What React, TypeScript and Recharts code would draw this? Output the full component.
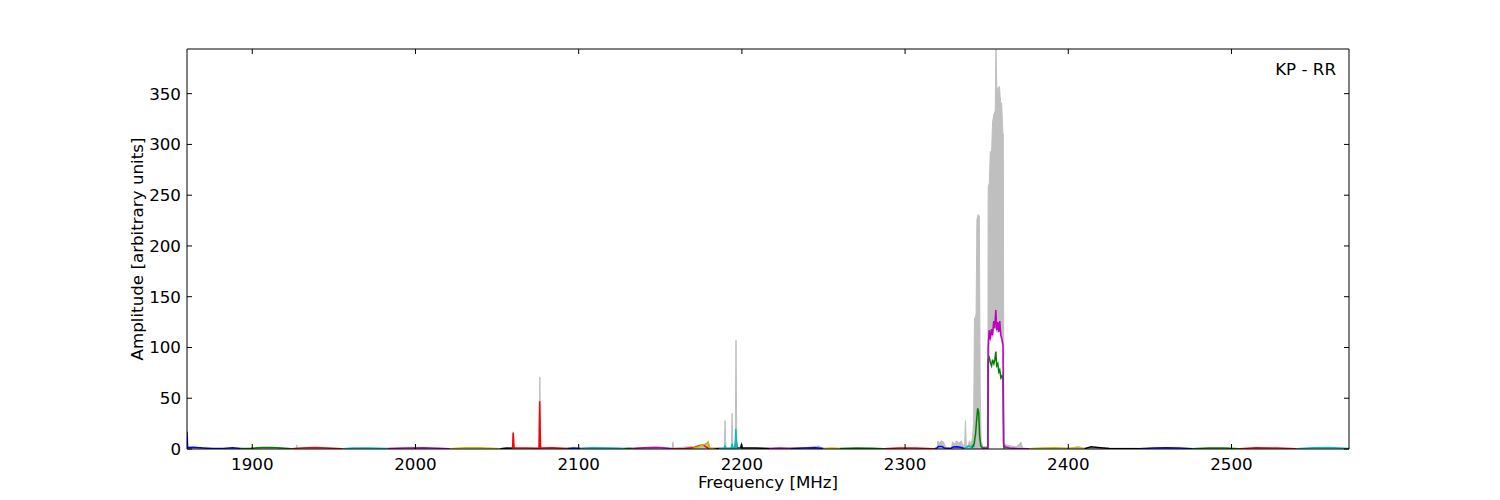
import React from 'react';
import { ComposedChart, Line, Area, XAxis, YAxis } from 'recharts';

// frequency [MHz], low, high  (envelope of all spectra, drawn in grey)
const grey: [number, number, number][] = [
  [1860, 0, 0], [1926.8, 0, 0], [1927.3, 0, 4], [1927.8, 0, 0],
  [2059.3, 0, 0], [2059.8, 0, 17], [2060.3, 0, 0],
  [2075.7, 0, 0], [2076.2, 0, 71], [2076.7, 0, 0],
  [2110, 0, 1.5], [2118, 0, 1.2], [2130, 0, 0.5], [2145, 0, 2], [2152, 0, 1.8],
  [2157.2, 0, 0], [2157.7, 0, 7], [2158.2, 0, 1],
  [2174, 0, 3], [2178, 0, 5], [2179.5, 0, 7], [2180.5, 0, 0.5],
  [2189.2, 0, 0], [2189.7, 0, 28], [2190.2, 0, 0],
  [2193.5, 0, 0], [2194, 0, 35], [2194.5, 0, 0],
  [2195.9, 0, 0], [2196.4, 0, 107], [2196.9, 0, 0],
  [2240, 0, 1.5], [2247, 0, 3], [2250, 0, 0.5],
  [2319.5, 0, 0], [2320, 0, 8], [2321, 0, 6], [2322, 0, 8], [2323.5, 0, 7], [2325, 0, 1],
  [2328.5, 0, 1], [2329, 0, 7], [2330.5, 0, 5], [2331.5, 0, 8], [2333, 0, 6], [2334.5, 0, 8], [2335.5, 0, 3],
  [2336.5, 0, 5], [2337, 0, 28], [2337.5, 0, 4],
  [2338.5, 0, 3], [2339.5, 0, 8], [2340.5, 0, 5], [2341.3, 0, 12], [2342, 0, 25],
  [2342.5, 0, 128], [2343.5, 0, 132], [2344, 0, 226], [2344.8, 0, 231], [2345.5, 0, 229], [2346, 0, 60],
  [2346.6, 0, 8], [2347.5, 0, 3], [2349, 0, 2], [2350.7, 0, 3],
  [2350.9, 2, 258], [2351.6, 115, 262], [2352.2, 106, 293], [2353, 116, 292], [2353.6, 110, 322],
  [2354.4, 124, 330], [2355.2, 118, 333], [2355.7, 135, 394], [2356.3, 115, 350], [2357, 122, 356],
  [2357.8, 120, 357], [2358.5, 112, 342], [2359.2, 106, 340], [2359.9, 100, 311], [2360.2, 5, 310],
  [2360.5, 0, 6], [2362, 0, 4], [2365, 0, 3], [2368, 0, 2], [2370, 0, 5], [2371, 0, 7], [2372, 0, 1],
  [2376, 0, 0.5], [2403, 0, 1], [2406, 0, 2.5], [2409, 0, 1], [2572, 0, 0],
];

// individual sub-band spectra, [frequency, amplitude]
const blueA = [[1860, 17], [1860.4, 1.5], [1864, 1.8], [1870, 1], [1876, 0.4], [1882, 0.6], [1888, 1.3], [1893, 0.5]];
const greenA = [[1893, 0.5], [1899, 0.7], [1906, 1.4], [1912, 1.6], [1918, 1], [1924, 0.3]];
const redA = [[1924, 0.3], [1930, 1.1], [1938, 1.4], [1946, 1], [1955, 0.3]];
const cyanA = [[1955, 0.3], [1962, 0.9], [1972, 1.1], [1983, 0.4]];
const magentaA = [[1983, 0.4], [1993, 0.9], [2005, 1.2], [2014, 0.8], [2021, 0.3]];
const yellowA = [[2021, 0.3], [2030, 1.3], [2040, 1.2], [2052, 0.3]];
const blackA = [[2052, 0.3], [2056, 0.9], [2059.5, 0.8]];
const redB = [[2059.5, 0.8], [2059.9, 16], [2060.4, 1], [2068, 0.9], [2075.7, 0.8], [2076.1, 47], [2076.6, 1], [2084, 1.2], [2093, 0.4]];
const blueB = [[2093, 0.4], [2097, 0.9], [2101, 0.5]];
const cyanB = [[2101, 0.5], [2108, 1.3], [2116, 1.1], [2124, 0.8], [2128, 0.4]];
const greenB = [[2128, 0.4], [2131, 0.8], [2133, 0.5]];
const magentaB = [[2133, 0.5], [2140, 1.2], [2148, 1.6], [2155, 0.8], [2158, 0.3]];
const redC = [[2158, 0.3], [2165, 0.5], [2171, 1.5], [2174, 3.5], [2176.5, 4], [2178, 2], [2179.5, 0.8], [2184, 0.4]];
const yellowB = [[2170, 0.5], [2173, 2], [2176, 4], [2178, 5], [2179.2, 7], [2180.2, 1], [2183, 0.3]];
const blackB = [[2184, 0.4], [2189.2, 0.5], [2189.7, 2], [2190.2, 0.5], [2193.5, 0.5], [2194, 3], [2194.5, 0.5], [2195.9, 0.5], [2196.4, 12], [2196.9, 1], [2199.2, 1], [2199.7, 4], [2200.2, 1], [2208, 1], [2217, 0.5]];
const cyanC = [[2186, 0.4], [2189.2, 0.4], [2189.7, 3], [2190.2, 0.4], [2193.5, 0.4], [2194, 5], [2194.5, 0.4], [2195.9, 0.4], [2196.3, 20], [2196.8, 0.8], [2200, 0.5]];
const magentaC = [[2217, 0.5], [2223, 1], [2230, 0.4]];
const blueC = [[2230, 0.4], [2238, 1], [2245, 1.3], [2250, 0.4]];
const yellowC = [[2250, 0.4], [2255, 0.9], [2260, 0.4]];
const greenC = [[2260, 0.4], [2270, 1], [2280, 0.8], [2287, 0.3]];
const redD = [[2287, 0.3], [2296, 0.9], [2306, 1], [2318, 0.3]];
const blueD = [[2318, 0.3], [2319.5, 1], [2320.5, 2.5], [2322.5, 2.5], [2324, 1], [2328, 0.5], [2329.5, 2], [2332, 2.2], [2334.5, 1.5], [2336, 0.5]];
const cyanD = [[2336, 0.5], [2337.5, 1.5], [2339, 3], [2340.5, 2], [2341.5, 4], [2342.5, 2]];
const greenD = [[2341, 1], [2342.3, 5], [2343.2, 15], [2343.9, 30], [2344.5, 40], [2345.1, 36], [2345.7, 12], [2346.4, 3], [2347.5, 1], [2350.7, 1],
  [2350.9, 88], [2351.6, 90], [2352.3, 85], [2353, 82], [2353.6, 88], [2354.4, 84], [2355, 88], [2355.6, 96], [2356.1, 82], [2356.8, 84],
  [2357.4, 76], [2358, 78], [2358.7, 70], [2359.4, 72], [2360, 68], [2360.4, 2], [2361, 0.5]];
const magentaD = [[2347, 0.5], [2350.7, 0.5], [2350.9, 100], [2351.5, 117], [2352.2, 108], [2352.9, 118], [2353.6, 112], [2354.3, 126], [2354.9, 119],
  [2355.6, 137], [2356.2, 117], [2356.8, 125], [2357.4, 115], [2358, 126], [2358.7, 112], [2359.4, 108], [2360, 102], [2360.4, 4],
  [2361.5, 2], [2364, 1], [2368, 0.5], [2376, 0.3]];
const yellowD = [[2376, 0.3], [2384, 1], [2392, 1.2], [2400, 0.5], [2405, 1.5], [2410, 0.3]];
const blackC = [[2410, 0.3], [2414, 2.2], [2418, 1.5], [2425, 0.5], [2435, 0.3], [2444, 0.3]];
const blueE = [[2444, 0.3], [2452, 1], [2460, 1.3], [2468, 1], [2476, 0.3]];
const greenE = [[2476, 0.3], [2486, 1], [2496, 1], [2505, 0.3]];
const redE = [[2505, 0.3], [2515, 1.2], [2528, 1], [2540, 0.3]];
const cyanE = [[2540, 0.3], [2550, 1.2], [2560, 1.4], [2572, 0.5]];

const xTicks = [1900, 2000, 2100, 2200, 2300, 2400, 2500];
const yTicks = [0, 50, 100, 150, 200, 250, 300, 350];

const C = { b: '#0000ff', g: '#008000', r: '#ff0000', c: '#00bfbf', m: '#bf00bf', y: '#bfbf00', k: '#000000' };

const bands: [string, number[][]][] = [
  [C.b, blueA], [C.g, greenA], [C.r, redA], [C.c, cyanA], [C.m, magentaA], [C.y, yellowA], [C.k, blackA],
  [C.r, redB], [C.b, blueB], [C.c, cyanB], [C.g, greenB], [C.m, magentaB], [C.r, redC], [C.y, yellowB],
  [C.k, blackB], [C.c, cyanC], [C.m, magentaC], [C.b, blueC], [C.y, yellowC], [C.g, greenC], [C.r, redD],
  [C.b, blueD], [C.c, cyanD], [C.g, greenD], [C.m, magentaD], [C.y, yellowD], [C.k, blackC],
  [C.b, blueE], [C.g, greenE], [C.r, redE], [C.c, cyanE],
];

const font = 'DejaVu Sans';
const fs = 16.7;
const tickStyle = { fill: '#000', fontSize: fs, fontFamily: font };
const blank = () => '';

const greyData = grey.map(([f, lo, hi]) => ({ f, r: [lo, hi] }));

export default function App() {
  return (
    <div style={{ position: 'absolute', left: 0, top: 0, width: 1500, height: 500, background: '#fff' }}>
      <ComposedChart width={1500} height={500} margin={{ top: 48, right: 150, bottom: 21, left: 127 }}>
        <XAxis xAxisId={0} type="number" dataKey="f" domain={[1860, 2572]} ticks={xTicks} allowDataOverflow
          height={30} tickSize={-5} tickMargin={14} tick={tickStyle}
          axisLine={{ stroke: '#000' }} tickLine={{ stroke: '#000' }} />
        <XAxis xAxisId="top" orientation="top" type="number" dataKey="f" domain={[1860, 2572]} ticks={xTicks} allowDataOverflow
          height={1} tickSize={-5} tickFormatter={blank} axisLine={{ stroke: '#000' }} tickLine={{ stroke: '#000' }} />
        <YAxis yAxisId={0} type="number" domain={[0, 394]} ticks={yTicks} allowDataOverflow
          width={60} tickSize={-5} tickMargin={11} tick={tickStyle}
          axisLine={{ stroke: '#000' }} tickLine={{ stroke: '#000' }} />
        <YAxis yAxisId="right" orientation="right" type="number" domain={[0, 394]} ticks={yTicks} allowDataOverflow
          width={1} tickSize={-5} tickFormatter={blank} axisLine={{ stroke: '#000' }} tickLine={{ stroke: '#000' }} />
        <Area data={greyData} dataKey="r" type="linear" stroke="#bfbfbf" strokeWidth={1} fill="#bfbfbf" fillOpacity={1}
          dot={false} activeDot={false} isAnimationActive={false} />
        {bands.map(([color, pts], i) => (
          <Line key={i} data={pts.map(([f, v]) => ({ f, v }))} dataKey="v" type="linear" stroke={color}
            strokeWidth={1.5} dot={false} activeDot={false} isAnimationActive={false} />
        ))}
      </ComposedChart>
      <div style={{ position: 'absolute', left: 1000, width: 336, top: 61, lineHeight: 1, textAlign: 'right', fontFamily: font, fontSize: fs }}>
        KP - RR
      </div>
      <div style={{ position: 'absolute', left: 568, width: 400, top: 474, lineHeight: 1, textAlign: 'center', fontFamily: font, fontSize: fs }}>
        Frequency [MHz]
      </div>
      <div style={{ position: 'absolute', left: 137, top: 249, width: 0, height: 0 }}>
        <div style={{ position: 'absolute', transform: 'translate(-50%, -50%) rotate(-90deg)', whiteSpace: 'nowrap', lineHeight: 1, fontFamily: font, fontSize: fs }}>
          Amplitude [arbitrary units]
        </div>
      </div>
    </div>
  );
}
